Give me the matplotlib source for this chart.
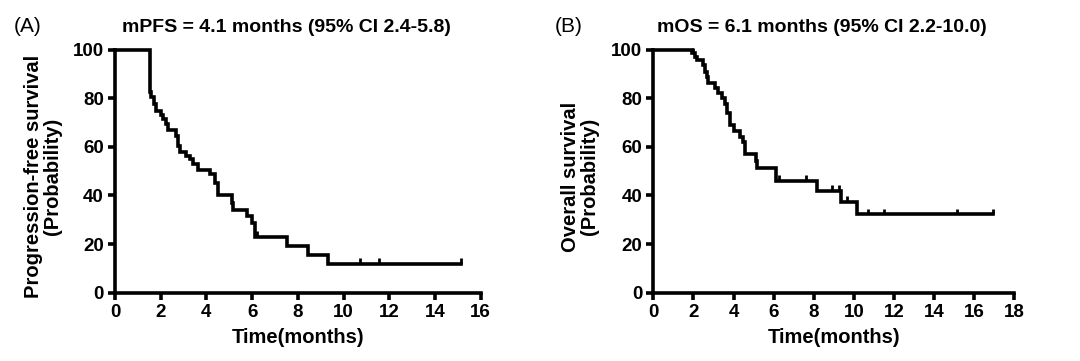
import matplotlib
matplotlib.use("Agg")
import matplotlib.pyplot as plt

plt.rcParams['font.family'] = ['Liberation Sans', 'DejaVu Sans']

# ---- Data (Kaplan-Meier step curves, % survival) ----
pfs_time = [0, 1.51, 1.59, 1.70, 1.81, 2.00, 2.10, 2.24, 2.32, 2.68, 2.75, 2.83,
            3.09, 3.27, 3.41, 3.63, 4.16, 4.38, 4.52, 5.10, 5.18, 5.76, 5.98,
            6.13, 7.51, 8.46, 9.34, 15.14]
pfs_surv = [100, 82.5, 80.4, 77.7, 74.9, 73.1, 71.5, 69.4, 66.7, 64.6, 60.5, 57.7,
            56.3, 55.0, 52.9, 50.4, 48.8, 45.0, 40.0, 37.0, 34.0, 31.5, 28.8,
            23.0, 19.1, 15.3, 11.9, 11.9]
pfs_censor = [6.20, 10.72, 11.57, 15.14]

os_time = [0, 1.91, 2.08, 2.16, 2.49, 2.58, 2.66, 2.74, 3.07, 3.24, 3.41, 3.57,
           3.66, 3.82, 4.02, 4.30, 4.45, 4.55, 5.10, 5.18, 6.10, 8.18, 9.36,
           10.17, 16.95]
os_surv = [100, 98.4, 97.0, 95.6, 93.5, 90.8, 88.7, 86.3, 84.3, 82.3, 80.0, 77.5,
           73.7, 69.0, 66.5, 64.0, 62.0, 57.0, 54.0, 51.2, 46.0, 41.9, 37.4,
           32.3, 32.3]
os_censor = [2.0, 6.25, 7.61, 8.90, 9.24, 9.64, 10.70, 11.50, 15.12, 16.95]

panel_labels = ["(A)", "(B)"]
titles = ["mPFS = 4.1 months (95% CI 2.4-5.8)", "mOS = 6.1 months (95% CI 2.2-10.0)"]
ylabels = ["Progression-free survival\n(Probability)", "Overall survival\n(Probability)"]
xlabel = "Time(months)"
xmax = [16, 18]
yticks = [0, 20, 40, 60, 80, 100]

fig = plt.figure(figsize=(10.8, 3.61), dpi=100)
W, H = 1080, 361
axes_px = [(115, 480.7), (653.3, 1014.3)]
y0_px, y100_px = 292.7, 49.5

series = [(pfs_time, pfs_surv, pfs_censor), (os_time, os_surv, os_censor)]
title_x = [286, 822]
plabel_x = [14, 555]
ylabel_x = [-0.145, -0.151]

LW = 2.6
for i, ((l, r), (t, s, c)) in enumerate(zip(axes_px, series)):
    ax = fig.add_axes([l / W, 1 - y0_px / H, (r - l) / W, (y0_px - y100_px) / H])
    ax.step(t, s, where='post', color='black', lw=LW, solid_joinstyle='miter',
            clip_on=False, zorder=3)
    # censor marks
    for ct in c:
        lvl = s[0]
        for tt, ss in zip(t, s):
            if tt <= ct:
                lvl = ss
        ax.vlines(ct, lvl, lvl + 2.3, color='black', lw=2.0, clip_on=False, zorder=3)
    ax.set_xlim(0, xmax[i])
    ax.set_ylim(0, 100)
    ax.set_xticks(range(0, xmax[i] + 1, 2))
    ax.set_yticks(yticks)
    for sp in ['top', 'right']:
        ax.spines[sp].set_visible(False)
    for sp in ['left', 'bottom']:
        ax.spines[sp].set_linewidth(LW)
    ax.tick_params(axis='both', direction='out', length=5, width=LW,
                   labelsize=13.5, pad=3)
    for lab in ax.get_xticklabels() + ax.get_yticklabels():
        lab.set_fontweight('bold')
    ax.set_xlabel(xlabel, fontsize=14.5, fontweight='bold', labelpad=5)
    ax.set_ylabel(ylabels[i], fontsize=14.5, fontweight='bold', linespacing=1.0)
    ax.yaxis.set_label_coords(ylabel_x[i], 0.478)
    fig.text(title_x[i] / W, 1 - 27 / H, titles[i], ha='center', va='center',
             fontsize=14, fontweight='bold')
    fig.text(plabel_x[i] / W, 1 - 27 / H, panel_labels[i], ha='left', va='center',
             fontsize=15)

fig.savefig("out.png", dpi=100)
